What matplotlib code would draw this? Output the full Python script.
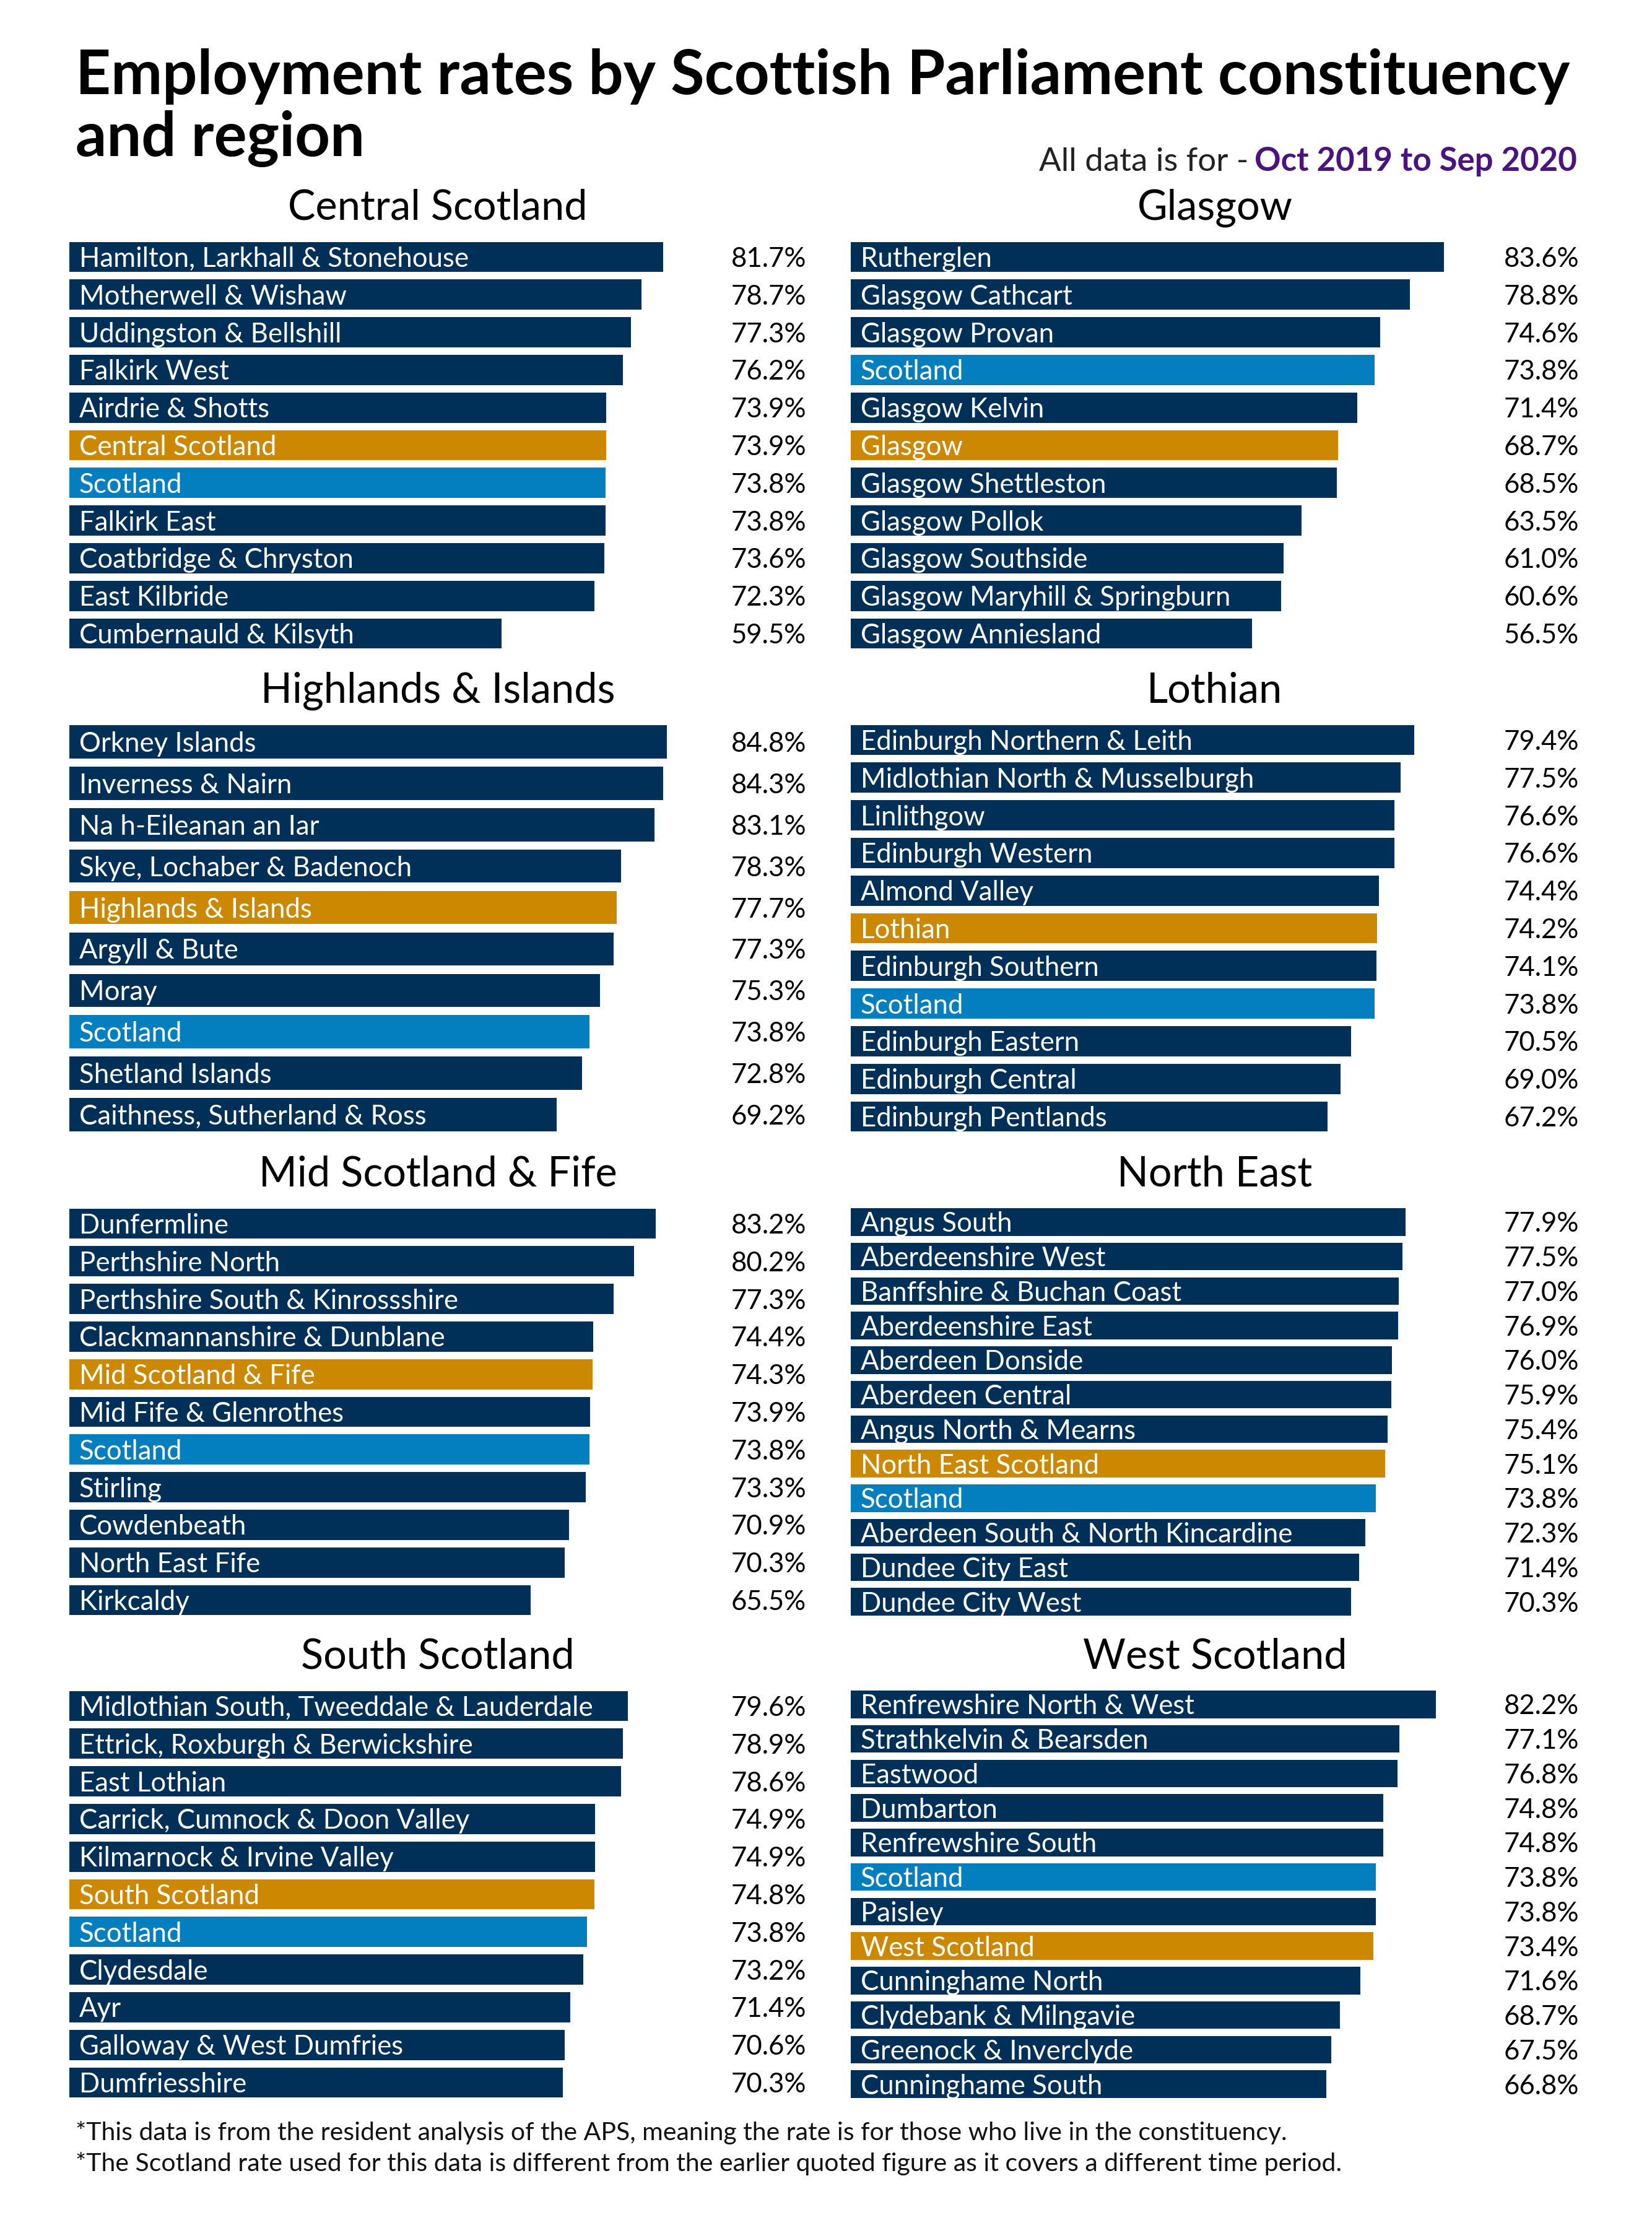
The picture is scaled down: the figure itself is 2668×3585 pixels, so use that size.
import matplotlib
matplotlib.use('Agg')
import matplotlib.pyplot as plt

# canvas size in pixels
W, H = 2668, 3585
DPI = 100

NAVY = '#003057'
ORANGE = '#CC8800'
BLUE = '#037EBE'
PURPLE = '#4B137F'

# ---- data ----
central_names = ['Hamilton, Larkhall & Stonehouse', 'Motherwell & Wishaw', 'Uddingston & Bellshill',
                 'Falkirk West', 'Airdrie & Shotts', 'Central Scotland', 'Scotland', 'Falkirk East',
                 'Coatbridge & Chryston', 'East Kilbride', 'Cumbernauld & Kilsyth']
central_vals = [81.7, 78.7, 77.3, 76.2, 73.9, 73.9, 73.8, 73.8, 73.6, 72.3, 59.5]

glasgow_names = ['Rutherglen', 'Glasgow Cathcart', 'Glasgow Provan', 'Scotland', 'Glasgow Kelvin',
                 'Glasgow', 'Glasgow Shettleston', 'Glasgow Pollok', 'Glasgow Southside',
                 'Glasgow Maryhill & Springburn', 'Glasgow Anniesland']
glasgow_vals = [83.6, 78.8, 74.6, 73.8, 71.4, 68.7, 68.5, 63.5, 61.0, 60.6, 56.5]

highlands_names = ['Orkney Islands', 'Inverness & Nairn', 'Na h-Eileanan an Iar', 'Skye, Lochaber & Badenoch',
                   'Highlands & Islands', 'Argyll & Bute', 'Moray', 'Scotland', 'Shetland Islands',
                   'Caithness, Sutherland & Ross']
highlands_vals = [84.8, 84.3, 83.1, 78.3, 77.7, 77.3, 75.3, 73.8, 72.8, 69.2]

lothian_names = ['Edinburgh Northern & Leith', 'Midlothian North & Musselburgh', 'Linlithgow',
                 'Edinburgh Western', 'Almond Valley', 'Lothian', 'Edinburgh Southern', 'Scotland',
                 'Edinburgh Eastern', 'Edinburgh Central', 'Edinburgh Pentlands']
lothian_vals = [79.4, 77.5, 76.6, 76.6, 74.4, 74.2, 74.1, 73.8, 70.5, 69.0, 67.2]

mid_names = ['Dunfermline', 'Perthshire North', 'Perthshire South & Kinrossshire', 'Clackmannanshire & Dunblane',
             'Mid Scotland & Fife', 'Mid Fife & Glenrothes', 'Scotland', 'Stirling', 'Cowdenbeath',
             'North East Fife', 'Kirkcaldy']
mid_vals = [83.2, 80.2, 77.3, 74.4, 74.3, 73.9, 73.8, 73.3, 70.9, 70.3, 65.5]

ne_names = ['Angus South', 'Aberdeenshire West', 'Banffshire & Buchan Coast', 'Aberdeenshire East',
            'Aberdeen Donside', 'Aberdeen Central', 'Angus North & Mearns', 'North East Scotland', 'Scotland',
            'Aberdeen South & North Kincardine', 'Dundee City East', 'Dundee City West']
ne_vals = [77.9, 77.5, 77.0, 76.9, 76.0, 75.9, 75.4, 75.1, 73.8, 72.3, 71.4, 70.3]

south_names = ['Midlothian South, Tweeddale & Lauderdale', 'Ettrick, Roxburgh & Berwickshire', 'East Lothian',
               'Carrick, Cumnock & Doon Valley', 'Kilmarnock & Irvine Valley', 'South Scotland', 'Scotland',
               'Clydesdale', 'Ayr', 'Galloway & West Dumfries', 'Dumfriesshire']
south_vals = [79.6, 78.9, 78.6, 74.9, 74.9, 74.8, 73.8, 73.2, 71.4, 70.6, 70.3]

west_names = ['Renfrewshire North & West', 'Strathkelvin & Bearsden', 'Eastwood', 'Dumbarton',
              'Renfrewshire South', 'Scotland', 'Paisley', 'West Scotland', 'Cunninghame North',
              'Clydebank & Milngavie', 'Greenock & Inverclyde', 'Cunninghame South']
west_vals = [82.2, 77.1, 76.8, 74.8, 74.8, 73.8, 73.8, 73.4, 71.6, 68.7, 67.5, 66.8]

panel_titles = ['Central Scotland', 'Glasgow', 'Highlands & Islands', 'Lothian',
                'Mid Scotland & Fife', 'North East', 'South Scotland', 'West Scotland']
region_rows = ['Central Scotland', 'Glasgow', 'Highlands & Islands', 'Lothian',
               'Mid Scotland & Fife', 'North East Scotland', 'South Scotland', 'West Scotland']
all_names = [central_names, glasgow_names, highlands_names, lothian_names,
             mid_names, ne_names, south_names, west_names]
all_vals = [central_vals, glasgow_vals, highlands_vals, lothian_vals,
            mid_vals, ne_vals, south_vals, west_vals]

# ---- layout (pixels) ----
col_x = [(112, 1302), (1374, 2550)]
row_y = [(384.6, 1053.4), (1164.5, 1833.5), (1945.6, 2614.4), (2724.6, 3393.4)]
# x-axis max per panel (each panel has its own scale)
x_max = [101.4, 102.6, 104.6, 102.6, 104.6, 102.3, 105.0, 102.3]

plt.rcParams['font.family'] = ['Lato', 'DejaVu Sans']
fig = plt.figure(figsize=(W / DPI, H / DPI), dpi=DPI)
fig.patch.set_facecolor('white')

px = 72 / DPI  # points per pixel
LABEL_FS = 31.5

for k, title in enumerate(panel_titles):
    names, vals = all_names[k], all_vals[k]
    row, col = k // 2, k % 2
    x0, x1 = col_x[col]
    top, bot = row_y[row]
    ax = fig.add_axes([x0 / W, 1 - bot / H, (x1 - x0) / W, (bot - top) / H])
    n = len(names)
    colors = []
    for nm in names:
        if nm == 'Scotland':
            colors.append(BLUE)
        elif nm == region_rows[k]:
            colors.append(ORANGE)
        else:
            colors.append(NAVY)
    ax.barh(range(n), vals, height=0.8, color=colors)
    ax.set_xlim(0, x_max[k])
    ax.set_ylim(n - 0.5, -0.5)
    ax.axis('off')
    for i, (nm, v) in enumerate(zip(names, vals)):
        ax.annotate(nm, (0, i), xytext=(16 * px, -16 * px), textcoords='offset points',
                    ha='left', va='baseline', color='white', fontsize=LABEL_FS)
        ax.annotate(f'{v:.1f}%', (1, i), xycoords=('axes fraction', 'data'),
                    xytext=(0, -16 * px), textcoords='offset points',
                    ha='right', va='baseline', color='black', fontsize=LABEL_FS)
    fig.text((x0 + x1) / 2 / W, 1 - (top - 30) / H, title, ha='center', va='baseline',
             fontsize=48, color='black')

# main title
fig.text(122 / W, 1 - 152 / H, 'Employment rates by Scottish Parliament constituency',
         fontsize=71.5, weight='bold', ha='left', va='baseline')
fig.text(122 / W, 1 - 252 / H, 'and region', fontsize=71.5, weight='bold', ha='left', va='baseline')

# subtitle in two colours
renderer = fig.canvas.get_renderer()
date_txt = fig.text(2547 / W, 1 - 276 / H, 'Oct 2019 to Sep 2020', fontsize=38, color=PURPLE,
                    weight='bold', ha='right', va='baseline')
bb = date_txt.get_window_extent(renderer=renderer)
fig.text((bb.x0 - 10) / W, 1 - 276 / H, 'All data is for -', fontsize=38,
         ha='right', va='baseline', color='#222222')

# footnotes
fig.text(122 / W, 1 - 3456 / H,
         '*This data is from the resident analysis of the APS, meaning the rate is for those who live in the constituency.',
         fontsize=29.5, ha='left', va='baseline', color='#111111')
fig.text(122 / W, 1 - 3506 / H,
         '*The Scotland rate used for this data is different from the earlier quoted figure as it covers a different time period.',
         fontsize=29.5, ha='left', va='baseline', color='#111111')

fig.savefig('out.png', dpi=DPI, facecolor='white')
